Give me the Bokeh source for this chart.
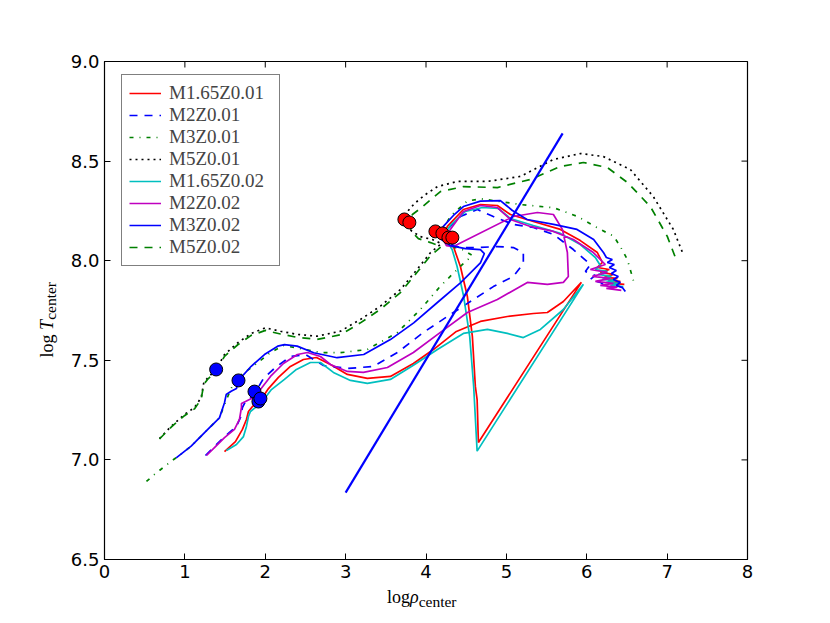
from bokeh.plotting import figure
from bokeh.models import (FixedTicker, PrintfTickFormatter, Legend, LegendItem, Range1d, Div)
from bokeh.layouts import row, column
from bokeh.embed import file_html
from bokeh.resources import INLINE

# ---------------- data (log rho_center, log T_center) ----------------
names = ["M1.65Z0.01", "M2Z0.01", "M3Z0.01", "M5Z0.01",
         "M1.65Z0.02", "M2Z0.02", "M3Z0.02", "M5Z0.02"]

m165z001_x = [1.493, 1.629, 1.716, 1.766, 1.791, 1.841, 1.940, 2.040, 2.164, 2.313, 2.475, 2.637,
              2.811, 3.022, 3.271, 3.557, 3.843, 4.092, 4.378, 4.677, 5.012, 5.336, 5.510, 5.709,
              5.933, 4.652, 4.636, 4.614, 4.577, 4.515, 4.428, 4.341, 4.279, 4.241, 4.266, 4.465,
              4.677, 4.888, 5.050, 5.336, 5.672, 5.920, 6.132, 6.194, 6.132, 6.281, 6.169, 6.331,
              6.219, 6.381, 6.269, 6.418, 6.318, 6.468]
m165z001_y = [7.042, 7.092, 7.153, 7.203, 7.243, 7.268, 7.298, 7.358, 7.414, 7.469, 7.504, 7.514,
              7.479, 7.429, 7.409, 7.419, 7.484, 7.554, 7.645, 7.695, 7.720, 7.735, 7.740, 7.795,
              7.891, 7.087, 7.303, 7.369, 7.619, 7.820, 7.971, 8.071, 8.106, 8.147, 8.172, 8.257,
              8.282, 8.277, 8.232, 8.197, 8.157, 8.101, 8.041, 7.991, 7.966, 7.956, 7.941, 7.931,
              7.916, 7.911, 7.901, 7.896, 7.886, 7.881]

m2z001_x = [1.256, 1.343, 1.443, 1.555, 1.642, 1.692, 1.716, 1.754, 1.853, 1.978, 2.127, 2.313,
            2.500, 2.724, 3.022, 3.346, 3.644, 3.968, 4.266, 4.552, 4.838, 5.087, 5.211, 5.211,
            5.087, 4.888, 4.639, 4.428, 4.279, 4.216, 4.266, 4.428, 4.639, 4.838, 5.087, 5.336,
            5.585, 5.833, 6.045, 5.983, 6.107, 6.045, 6.169, 6.244]
m2z001_y = [7.022, 7.057, 7.097, 7.138, 7.168, 7.213, 7.263, 7.293, 7.323, 7.409, 7.464, 7.519,
            7.529, 7.474, 7.459, 7.469, 7.539, 7.640, 7.720, 7.795, 7.870, 7.921, 7.986, 8.041,
            8.066, 8.071, 8.066, 8.066, 8.086, 8.127, 8.157, 8.222, 8.257, 8.222, 8.182, 8.167,
            8.132, 8.056, 7.981, 7.946, 7.926, 7.906, 7.891, 7.870]

m3z001_x = [0.522, 0.622, 0.725, 0.830, 0.945, 1.078, 1.285, 1.430, 1.517, 1.604, 1.692, 1.878,
            2.065, 2.226, 2.438, 2.687, 2.935, 3.267, 3.641, 3.930, 4.179, 4.428, 4.577, 4.453,
            4.279, 4.216, 4.241, 4.303, 4.511, 4.677, 5.174, 5.588, 5.879, 6.169, 6.335, 6.418,
            6.505, 6.583]
m3z001_y = [6.892, 6.927, 6.960, 6.993, 7.027, 7.069, 7.153, 7.211, 7.303, 7.384, 7.424, 7.479,
            7.539, 7.574, 7.559, 7.539, 7.538, 7.554, 7.638, 7.755, 7.872, 7.972, 8.026, 8.056,
            8.076, 8.116, 8.177, 8.223, 8.299, 8.311, 8.282, 8.266, 8.223, 8.157, 8.123, 8.071,
            8.006, 7.897]

m5z001_x = [0.684, 0.830, 0.995, 1.119, 1.203, 1.235, 1.285, 1.389, 1.493, 1.658, 1.825, 2.002,
            2.189, 2.397, 2.646, 2.935, 3.184, 3.433, 3.682, 3.889, 4.055, 4.191, 4.080, 3.930,
            3.793, 3.731, 3.769, 3.856, 3.993, 4.142, 4.391, 4.764, 5.174, 5.585, 5.920, 6.206,
            6.542, 6.828, 7.077, 7.201]
m5z001_y = [7.107, 7.169, 7.228, 7.263, 7.313, 7.387, 7.412, 7.454, 7.529, 7.588, 7.635, 7.663,
            7.646, 7.630, 7.621, 7.646, 7.705, 7.772, 7.855, 7.956, 8.040, 8.086, 8.106, 8.121,
            8.157, 8.202, 8.247, 8.287, 8.332, 8.372, 8.398, 8.398, 8.423, 8.508, 8.538, 8.523,
            8.458, 8.322, 8.157, 8.031]

m165z002_x = [1.517, 1.642, 1.729, 1.766, 1.791, 1.816, 1.953, 2.077, 2.239, 2.388, 2.562, 2.687,
              2.848, 3.060, 3.271, 3.557, 3.843, 4.142, 4.465, 4.764, 5.012, 5.211, 5.423, 5.709,
              5.958, 4.636, 4.593, 4.544, 4.469, 4.387, 4.325, 4.266, 4.254, 4.303, 4.490, 4.701,
              4.900, 5.050, 5.336, 5.672, 5.920, 6.107, 6.169, 6.107, 6.256, 6.144, 6.306, 6.194,
              6.356, 6.244, 6.405, 6.294, 6.455]
m165z002_y = [7.047, 7.077, 7.117, 7.168, 7.218, 7.243, 7.288, 7.353, 7.404, 7.454, 7.489, 7.489,
              7.439, 7.399, 7.384, 7.404, 7.475, 7.554, 7.635, 7.655, 7.635, 7.614, 7.655, 7.755,
              7.881, 7.044, 7.369, 7.619, 7.820, 7.971, 8.056, 8.096, 8.147, 8.177, 8.247, 8.267,
              8.262, 8.212, 8.177, 8.137, 8.081, 8.016, 7.976, 7.956, 7.946, 7.931, 7.921, 7.906,
              7.901, 7.891, 7.886, 7.876, 7.870]

m2z002_x = [1.269, 1.368, 1.493, 1.617, 1.679, 1.704, 1.704, 1.754, 1.853, 1.940, 2.065, 2.226,
            2.400, 2.525, 2.687, 2.811, 3.022, 3.221, 3.520, 3.843, 4.179, 4.515, 4.888, 5.261,
            5.510, 5.709, 5.771, 5.759, 5.697, 5.585, 5.386, 5.087, 4.341, 4.254, 4.216, 4.303,
            4.465, 4.677, 4.888, 5.050, 5.299, 5.585, 5.833, 6.082, 6.231, 6.045, 6.256, 6.070,
            6.294, 6.107, 6.331, 6.169, 6.381, 6.244, 6.430]
m2z002_y = [7.022, 7.062, 7.112, 7.153, 7.203, 7.263, 7.283, 7.293, 7.313, 7.353, 7.419, 7.484,
            7.529, 7.539, 7.519, 7.479, 7.444, 7.439, 7.464, 7.539, 7.640, 7.740, 7.805, 7.891,
            7.881, 7.891, 7.921, 8.041, 8.157, 8.232, 8.242, 8.222, 8.071, 8.076, 8.106, 8.157,
            8.247, 8.277, 8.267, 8.207, 8.172, 8.147, 8.106, 8.041, 7.981, 7.956, 7.941, 7.921,
            7.911, 7.896, 7.886, 7.876, 7.867, 7.861, 7.851]

m3z002_x = [0.892, 1.078, 1.285, 1.430, 1.493, 1.514, 1.576, 1.642, 1.667, 1.825, 1.990, 2.155,
            2.239, 2.397, 2.603, 2.894, 3.225, 3.557, 3.847, 4.138, 4.428, 4.677, 4.726, 4.677,
            4.490, 4.303, 4.192, 4.154, 4.216, 4.341, 4.465, 4.677, 4.925, 5.000, 5.075, 5.257,
            5.588, 5.879, 6.086, 6.210, 6.244, 6.318, 6.256, 6.343, 6.281, 6.368, 6.306, 6.393,
            6.331, 6.418, 6.368, 6.443, 6.480]
m3z002_y = [7.010, 7.069, 7.153, 7.211, 7.287, 7.328, 7.345, 7.358, 7.399, 7.470, 7.529, 7.571,
            7.579, 7.571, 7.538, 7.513, 7.529, 7.604, 7.688, 7.789, 7.889, 7.989, 8.036, 8.056,
            8.061, 8.076, 8.106, 8.142, 8.172, 8.227, 8.272, 8.299, 8.302, 8.277, 8.252, 8.207,
            8.182, 8.157, 8.106, 8.040, 8.016, 8.006, 7.991, 7.981, 7.966, 7.951, 7.936, 7.921,
            7.906, 7.891, 7.876, 7.865, 7.845]

m5z002_x = [0.684, 0.830, 0.995, 1.119, 1.203, 1.235, 1.285, 1.389, 1.493, 1.658, 1.825, 2.002,
            2.189, 2.397, 2.646, 2.935, 3.184, 3.433, 3.682, 3.889, 4.055, 4.191, 4.055, 3.905,
            3.818, 3.793, 3.831, 3.930, 4.179, 4.465, 4.888, 5.299, 5.672, 5.958, 6.256, 6.505,
            6.791, 7.002, 7.127]
m5z002_y = [7.105, 7.165, 7.222, 7.256, 7.305, 7.380, 7.405, 7.448, 7.520, 7.578, 7.625, 7.650,
            7.632, 7.615, 7.605, 7.628, 7.688, 7.756, 7.840, 7.942, 8.025, 8.071, 8.091, 8.111,
            8.147, 8.192, 8.232, 8.262, 8.347, 8.372, 8.367, 8.408, 8.473, 8.493, 8.468, 8.393,
            8.272, 8.122, 7.991]

# straight reference line
ref_x = [3.0, 5.70]
ref_y = [6.836, 8.639]

# markers
blue_dot_x = [1.389, 1.667, 1.866, 1.915, 1.940]
blue_dot_y = [7.454, 7.399, 7.343, 7.293, 7.308]
red_dot_x = [3.731, 3.793, 4.117, 4.204, 4.279, 4.328]
red_dot_y = [8.207, 8.192, 8.147, 8.137, 8.116, 8.116]

x_ticks = [0, 1, 2, 3, 4, 5, 6, 7, 8]
y_ticks = [6.5, 7.0, 7.5, 8.0, 8.5, 9.0]

series_x = [m165z001_x, m2z001_x, m3z001_x, m5z001_x, m165z002_x, m2z002_x, m3z002_x, m5z002_x]
series_y = [m165z001_y, m2z001_y, m3z001_y, m5z001_y, m165z002_y, m2z002_y, m3z002_y, m5z002_y]
colors = ["#ff0000", "#0000ff", "#008000", "#000000", "#00bfbf", "#bf00bf", "#0000ff", "#008000"]
dashes = ["solid", "8 7", "4 6 1 6", "2 4", "solid", "solid", "solid", "8 7"]

# ---------------- figure ----------------
FW, FH = 643, 498
X0, X1, Y0, Y1 = 0.0, 8.0, 6.5, 9.0
YLAB_W = 60
BL, BR, BT, BB = 44, 60, 61, 28
p = figure(frame_width=FW, frame_height=FH, output_backend="svg", toolbar_location=None,
           x_range=Range1d(X0, X1), y_range=Range1d(Y0, Y1),
           min_border_left=BL, min_border_right=BR, min_border_top=BT, min_border_bottom=BB,
           background_fill_color="white", border_fill_color="white", margin=0)
p.grid.visible = False
p.outline_line_color = "black"
p.outline_line_width = 1.2

for ax, tk in ((p.xaxis[0], x_ticks), (p.yaxis[0], y_ticks)):
    ax.ticker = FixedTicker(ticks=tk)
    ax.major_tick_in = 6
    ax.major_tick_out = 0
    ax.minor_tick_line_color = None
    ax.axis_line_color = "black"
    ax.major_label_text_font = "DejaVu Sans"
    ax.major_label_text_font_size = "18px"
    ax.major_label_text_color = "black"
    ax.major_label_standoff = 5
p.yaxis[0].formatter = PrintfTickFormatter(format="%.1f")

# inward ticks on the top and right edges
tlen_y = 6 * (Y1 - Y0) / FH
tlen_x = 6 * (X1 - X0) / FW
p.segment(x0=x_ticks, y0=[Y1] * len(x_ticks), x1=x_ticks, y1=[Y1 - tlen_y] * len(x_ticks),
          line_color="black", line_width=1)
p.segment(x0=[X1] * len(y_ticks), y0=y_ticks, x1=[X1 - tlen_x] * len(y_ticks), y1=y_ticks,
          line_color="black", line_width=1)

renderers = []
for sx, sy, c, d in zip(series_x, series_y, colors, dashes):
    r = p.line(sx, sy, line_color=c, line_width=1.7, line_dash=d)
    renderers.append(r)

p.line(ref_x, ref_y, line_color="#0000ff", line_width=2.2)
p.scatter(blue_dot_x, blue_dot_y, size=13, fill_color="#0000ff", line_color="black", line_width=1)
p.scatter(red_dot_x, red_dot_y, size=13, fill_color="#ff0000", line_color="black", line_width=1)

legend = Legend(items=[LegendItem(label=n, renderers=[r]) for n, r in zip(names, renderers)],
                location=(17, 293), border_line_color="black", border_line_width=1.2,
                label_text_font="Liberation Serif", label_text_font_size="19px",
                label_height=22, glyph_height=22, glyph_width=32, label_standoff=8,
                label_width=103, spacing=0, padding=7, margin=0, background_fill_alpha=1.0)
p.add_layout(legend, "center")

# ---------------- axis titles as HTML text ----------------
serif = "'Liberation Serif', serif"
fig_h = BT + FH + BB
xlab_html = (
    f'<div style="padding-left:{387 - YLAB_W}px; padding-top:3px; font-family:{serif}; '
    'font-size:18px; line-height:14px; white-space:nowrap; color:black;">'
    'log<i>ρ</i><span style="font-size:15.5px; vertical-align:-4px;">center</span></div>'
)
ylab_html = (
    f'<div style="padding-left:40px; padding-top:282px; font-family:{serif}; font-size:18px; '
    'line-height:14px; white-space:nowrap; color:black;">'
    '<div style="display:inline-block; vertical-align:top; writing-mode:vertical-rl; '
    'transform:rotate(180deg);">'
    'log <i>T</i><span style="font-size:15.5px; vertical-align:-4px;">center</span></div></div>'
)
xdiv = Div(text=xlab_html, width=BL + FW + BR, height=30, margin=0)
ydiv = Div(text=ylab_html, width=YLAB_W, height=fig_h, margin=0)

layout = row(ydiv, column(p, xdiv, spacing=0), spacing=0)

open("out.html", "w").write(file_html(layout, INLINE))
